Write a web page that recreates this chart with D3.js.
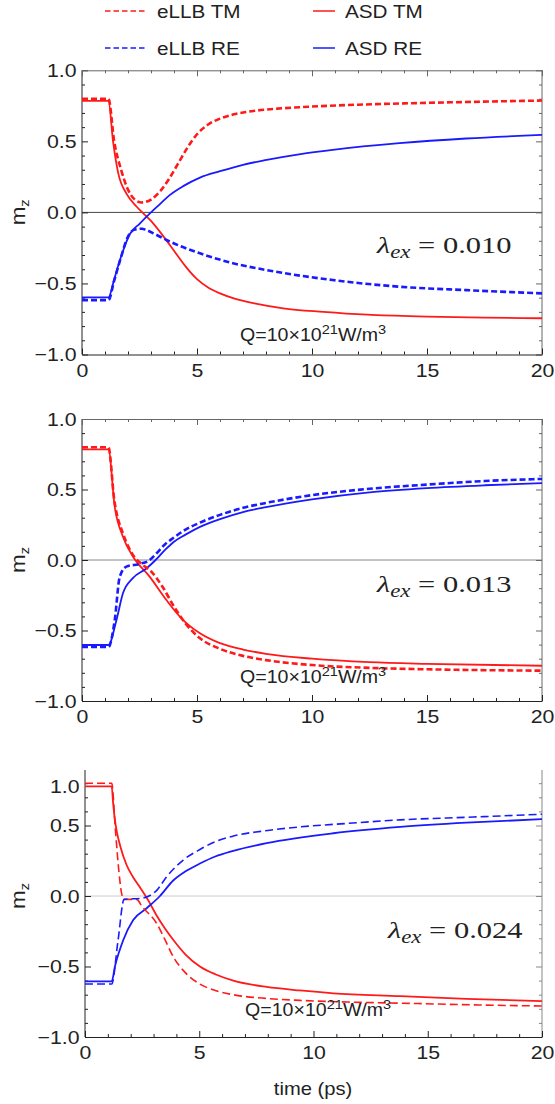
<!DOCTYPE html>
<html>
<head>
<meta charset="utf-8">
<script src="https://cdn.jsdelivr.net/npm/d3@7"></script>
<style>
  body { margin: 0; background: #fff; }
  svg { display: block; font-family: "Liberation Sans", Arial, sans-serif; }
</style>
</head>
<body>
<svg id="chart"></svg>
<script>
const width = 555, height = 1104;

// axis ticks
const xMajor = [0, 5, 10, 15, 20];
const yMajor = [-1, -0.5, 0, 0.5, 1];
const lambdas = ["0.010", "0.013", "0.024"];
const legendNames = ["eLLB TM", "ASD TM", "eLLB RE", "ASD RE"];

// panel 1, lambda = 0.010  ([time ps, m_z])
const p1_eLLB_TM = [[0,0.80],[1.15,0.80],[1.4,0.50],[1.7,0.30],[2.0,0.16],[2.3,0.09],[2.6,0.07],[3.0,0.09],[3.4,0.15],[3.8,0.24],[4.2,0.35],[4.6,0.46],[5.0,0.55],[5.5,0.62],[6.0,0.66],[6.6,0.69],[7.5,0.715],[8.5,0.73],[10,0.745],[12,0.758],[14,0.767],[17,0.778],[20,0.787]];
const p1_ASD_TM  = [[0,0.785],[1.15,0.785],[1.35,0.50],[1.57,0.28],[1.94,0.13],[2.38,0.04],[3.0,-0.06],[3.5,-0.16],[4.0,-0.27],[4.5,-0.38],[5.0,-0.47],[5.5,-0.53],[6.0,-0.57],[6.6,-0.605],[7.5,-0.64],[8.75,-0.675],[10.5,-0.70],[12.4,-0.72],[15,-0.733],[17.5,-0.74],[20,-0.745]];
const p1_eLLB_RE = [[0,-0.617],[1.15,-0.617],[1.4,-0.48],[1.65,-0.34],[2.0,-0.17],[2.3,-0.12],[2.6,-0.115],[2.8,-0.124],[3.2,-0.155],[3.67,-0.194],[5.13,-0.288],[6.5,-0.355],[8.03,-0.406],[10.9,-0.476],[13.8,-0.523],[16.7,-0.547],[20,-0.57]];
const p1_ASD_RE  = [[0,-0.598],[1.15,-0.598],[1.4,-0.47],[1.65,-0.335],[2.09,-0.15],[2.5,-0.08],[3.0,0.0],[3.4,0.06],[3.8,0.12],[4.4,0.185],[5.13,0.245],[6.0,0.29],[7.0,0.335],[8.03,0.369],[9.5,0.41],[10.9,0.44],[13.8,0.487],[16.7,0.52],[20,0.545]];

// panel 2, lambda = 0.013
const p2_eLLB_TM = [[0,0.80],[1.15,0.80],[1.4,0.43],[1.8,0.18],[2.2,0.04],[2.6,-0.03],[3.0,-0.08],[3.5,-0.19],[4.0,-0.33],[4.5,-0.45],[5.13,-0.555],[6,-0.63],[7,-0.68],[8,-0.71],[10,-0.745],[12.5,-0.765],[15,-0.775],[20,-0.785]];
const p2_ASD_TM  = [[0,0.785],[1.15,0.785],[1.42,0.38],[1.78,0.165],[2.22,0.023],[2.94,-0.118],[3.67,-0.284],[4.3,-0.41],[5.13,-0.52],[6,-0.59],[7,-0.635],[8,-0.665],[10,-0.70],[12.5,-0.725],[15,-0.737],[20,-0.75]];
const p2_eLLB_RE = [[0,-0.617],[1.15,-0.617],[1.42,-0.43],[1.64,-0.12],[1.93,-0.047],[2.5,-0.028],[2.9,-0.005],[3.2,0.04],[3.6,0.11],[4.0,0.16],[4.5,0.215],[5.13,0.265],[6.0,0.32],[7.0,0.37],[8,0.405],[10,0.46],[12.5,0.505],[15,0.535],[17.5,0.56],[20,0.575]];
const p2_ASD_RE  = [[0,-0.603],[1.15,-0.603],[1.5,-0.425],[1.78,-0.236],[2.2,-0.13],[2.8,-0.06],[3.2,0.0],[3.6,0.07],[4.0,0.13],[4.5,0.18],[5.13,0.235],[6.0,0.29],[7.0,0.34],[8,0.375],[10,0.43],[12.5,0.48],[15,0.51],[17.5,0.53],[20,0.545]];

// panel 3, lambda = 0.024
const p3_eLLB_TM = [[0,0.80],[1.17,0.80],[1.33,0.47],[1.48,0.18],[1.6,0.02],[1.71,-0.024],[2.26,-0.024],[2.5,-0.075],[3.14,-0.195],[3.5,-0.31],[3.86,-0.43],[4.4,-0.545],[5.03,-0.625],[5.7,-0.67],[6.49,-0.70],[8,-0.727],[9.4,-0.74],[11.5,-0.752],[13.8,-0.76],[17,-0.772],[20,-0.78]];
const p3_ASD_TM  = [[0,0.777],[1.17,0.777],[1.23,0.66],[1.3,0.55],[1.4,0.45],[1.55,0.35],[1.82,0.22],[2.1,0.135],[2.41,0.06],[2.8,-0.04],[3.14,-0.14],[3.5,-0.23],[3.86,-0.31],[4.4,-0.415],[5.03,-0.50],[5.7,-0.555],[6.49,-0.60],[7.95,-0.645],[9.4,-0.67],[10.87,-0.69],[13.8,-0.71],[16.7,-0.73],[20,-0.745]];
const p3_eLLB_RE = [[0,-0.624],[1.17,-0.624],[1.44,-0.324],[1.71,-0.024],[2.48,-0.016],[2.8,0.0],[3.14,0.04],[3.57,0.136],[4.3,0.255],[5.03,0.33],[5.7,0.385],[6.49,0.425],[8,0.465],[9.4,0.49],[11.5,0.515],[13.8,0.54],[17,0.56],[20,0.58]];
const p3_ASD_RE  = [[0,-0.605],[1.17,-0.605],[1.31,-0.50],[1.68,-0.31],[2.11,-0.17],[2.7,-0.087],[3.28,0.0],[3.86,0.11],[4.4,0.175],[5.03,0.23],[5.7,0.28],[6.49,0.32],[7.95,0.375],[10.87,0.445],[13.8,0.49],[16.7,0.52],[20,0.545]];

const RED = "#ff1a1a", BLUE = "#1a1aff";
const SX = 1.12; // glyphs in the figure are a bit wide

const panels = [
  { data: [p1_eLLB_TM, p1_ASD_TM, p1_eLLB_RE, p1_ASD_RE], x0: 82, top: 70.3, bottom: 354.5, clipTop: 70.3, frameTop: true,
    zero: "#444", frame: "#666", dash: "6,3", dashW: 2.6, lam: [377, 253], q: [240, 341] },
  { data: [p2_eLLB_TM, p2_ASD_TM, p2_eLLB_RE, p2_ASD_RE], x0: 82, top: 419, bottom: 701, clipTop: 419, frameTop: true,
    zero: "#888", frame: "#666", dash: "6,3", dashW: 2.6, lam: [377, 592], q: [240, 683] },
  { data: [p3_eLLB_TM, p3_ASD_TM, p3_eLLB_RE, p3_ASD_RE], x0: 85, top: 755, bottom: 1037, clipTop: 770, frameTop: false,
    zero: "#ccc", frame: "#888", dash: "8,4", dashW: 1.6, lam: [388, 938], q: [245, 1016] }
];
const x1 = 542;

const svg = d3.select("#chart").attr("width", width).attr("height", height);

// text placed with a horizontal stretch
function label(g, x, y, anchor, size) {
  return g.append("text")
    .attr("transform", `translate(${x},${y}) scale(${SX},1)`)
    .attr("text-anchor", anchor || "start")
    .style("font-size", (size || 19) + "px")
    .attr("fill", "#222");
}

panels.forEach((p, i) => {
  const x = d3.scaleLinear().domain([0, 20]).range([p.x0, x1]);
  const y = d3.scaleLinear().domain([-1, 1]).range([p.bottom, p.top]);
  const g = svg.append("g");

  g.append("clipPath").attr("id", "clip" + i)
    .append("rect").attr("x", p.x0).attr("y", p.clipTop).attr("width", x1 - p.x0).attr("height", p.bottom - p.clipTop);

  // zero line
  g.append("line").attr("x1", p.x0).attr("x2", x1).attr("y1", y(0)).attr("y2", y(0))
    .attr("stroke", p.zero).attr("stroke-width", 1);

  const xMinor = d3.range(0, 21, 1).filter(v => v % 5 !== 0);
  const yMinor = d3.range(-10, 11).map(v => v / 10).filter(v => Math.abs(v * 2 - Math.round(v * 2)) > 1e-6)
    .filter(v => y(v) >= p.clipTop);
  const yMaj = yMajor.filter(v => y(v) >= p.clipTop - 0.5);

  const styleAxis = (sel, col) => {
    sel.select(".domain").attr("stroke", col).attr("stroke-width", 1);
    sel.selectAll(".tick line").attr("stroke", col);
  };

  // left axis
  const left = g.append("g").attr("transform", `translate(${p.x0},0)`)
    .call(d3.axisLeft(y).tickValues(yMaj).tickSize(-6).tickSizeOuter(0).tickFormat(d3.format(".1f")))
    .call(s => styleAxis(s, "#222"));
  left.select(".domain").attr("d", `M0,${p.clipTop}V${p.bottom}`);
  left.selectAll(".tick text")
    .attr("x", -5.5 / SX).attr("transform", `scale(${SX},1)`)
    .style("font-size", "19px").attr("fill", "#222")
    .style("font-family", "'Liberation Sans', Arial, sans-serif");
  g.append("g").attr("transform", `translate(${p.x0},0)`)
    .call(d3.axisLeft(y).tickValues(yMinor).tickSize(-3).tickFormat(""))
    .call(s => s.select(".domain").remove())
    .call(s => s.selectAll(".tick line").attr("stroke", "#222"));
  if (!yMaj.includes(1)) {
    // the top label stays just under the cut-off edge
    label(g, p.x0 - 5.5, p.clipTop + 23, "end").text(d3.format(".1f")(1));
  }

  // right frame
  g.append("g").attr("transform", `translate(${x1},0)`)
    .call(d3.axisRight(y).tickValues(yMaj).tickSize(-6).tickSizeOuter(0).tickFormat(""))
    .call(s => styleAxis(s, p.frame))
    .call(s => s.select(".domain").attr("d", `M0,${p.clipTop}V${p.bottom}`));
  g.append("g").attr("transform", `translate(${x1},0)`)
    .call(d3.axisRight(y).tickValues(yMinor).tickSize(-3).tickFormat(""))
    .call(s => s.select(".domain").remove())
    .call(s => s.selectAll(".tick line").attr("stroke", p.frame));

  // bottom axis
  const bottom = g.append("g").attr("transform", `translate(0,${p.bottom})`)
    .call(d3.axisBottom(x).tickValues(xMajor).tickSize(-6).tickSizeOuter(0).tickPadding(15))
    .call(s => styleAxis(s, "#222"));
  bottom.selectAll(".tick text")
    .attr("y", 22.5).attr("dy", 0).attr("transform", `scale(${SX},1)`)
    .style("font-size", "19px").attr("fill", "#222")
    .style("font-family", "'Liberation Sans', Arial, sans-serif");
  g.append("g").attr("transform", `translate(0,${p.bottom})`)
    .call(d3.axisBottom(x).tickValues(xMinor).tickSize(-3).tickFormat(""))
    .call(s => s.select(".domain").remove())
    .call(s => s.selectAll(".tick line").attr("stroke", "#222"));

  // top frame
  if (p.frameTop) {
    g.append("g").attr("transform", `translate(0,${p.top})`)
      .call(d3.axisTop(x).tickValues(xMajor).tickSize(-6).tickSizeOuter(0).tickFormat(""))
      .call(s => styleAxis(s, p.frame));
    g.append("g").attr("transform", `translate(0,${p.top})`)
      .call(d3.axisTop(x).tickValues(xMinor).tickSize(-3).tickFormat(""))
      .call(s => s.select(".domain").remove())
      .call(s => s.selectAll(".tick line").attr("stroke", p.frame));
  }

  // curves: solid first, dashed on top
  const line = d3.line().x(d => x(d[0])).y(d => y(d[1])).curve(d3.curveMonotoneX);
  const curves = [
    { d: p.data[1], c: RED, dashed: false },
    { d: p.data[3], c: BLUE, dashed: false },
    { d: p.data[0], c: RED, dashed: true },
    { d: p.data[2], c: BLUE, dashed: true }
  ];
  g.append("g").attr("clip-path", `url(#clip${i})`)
    .selectAll("path").data(curves).join("path")
    .attr("d", c => line(c.d))
    .attr("fill", "none")
    .attr("stroke", c => c.c)
    .attr("stroke-width", c => c.dashed ? p.dashW : 1.8)
    .attr("stroke-dasharray", c => c.dashed ? p.dash : null);

  // y label
  const yl = g.append("text")
    .attr("transform", `translate(25,${y(0)}) rotate(-90) scale(${SX},1)`)
    .attr("text-anchor", "middle").style("font-size", "20px").attr("fill", "#222");
  yl.append("tspan").text("m");
  yl.append("tspan").attr("dy", 4).style("font-size", "13px").text("z");

  // lambda
  const lam = g.append("text")
    .attr("transform", `translate(${p.lam[0]},${p.lam[1]}) scale(1.27,1)`)
    .style("font-family", "'Liberation Serif', 'DejaVu Serif', serif")
    .style("font-size", "24px").attr("fill", "#222");
  lam.append("tspan").style("font-style", "italic").text("λ");
  lam.append("tspan").style("font-style", "italic").style("font-size", "18px").attr("dy", 5).text("ex");
  lam.append("tspan").attr("dy", -5).text(" = " + lambdas[i]);

  // heat input
  const q = label(g, p.q[0], p.q[1], "start", 17.5);
  q.append("tspan").text("Q=10×10");
  q.append("tspan").attr("dy", -7).style("font-size", "13px").text("21");
  q.append("tspan").attr("dy", 7).text("W/m");
  q.append("tspan").attr("dy", -7).style("font-size", "13px").text("3");
});

// x title
label(svg, 313, 1095, "middle", 18).text("time (ps)");

// legend
const legend = [
  { name: legendNames[0], c: RED, dashed: true, lx: 105, ly: 11 },
  { name: legendNames[1], c: RED, dashed: false, lx: 313, ly: 11 },
  { name: legendNames[2], c: BLUE, dashed: true, lx: 105, ly: 48 },
  { name: legendNames[3], c: BLUE, dashed: false, lx: 313, ly: 48 }
];
legend.forEach(l => {
  const len = l.dashed ? 40 : 22;
  svg.append("line").attr("x1", l.lx).attr("x2", l.lx + len).attr("y1", l.ly).attr("y2", l.ly)
    .attr("stroke", l.c).attr("stroke-width", 1.5)
    .attr("stroke-dasharray", l.dashed ? "5.5,3" : null);
  label(svg, l.lx + (l.dashed ? 52 : 32), l.ly + 6.5, "start", 18.5).text(l.name);
});
</script>
</body>
</html>
